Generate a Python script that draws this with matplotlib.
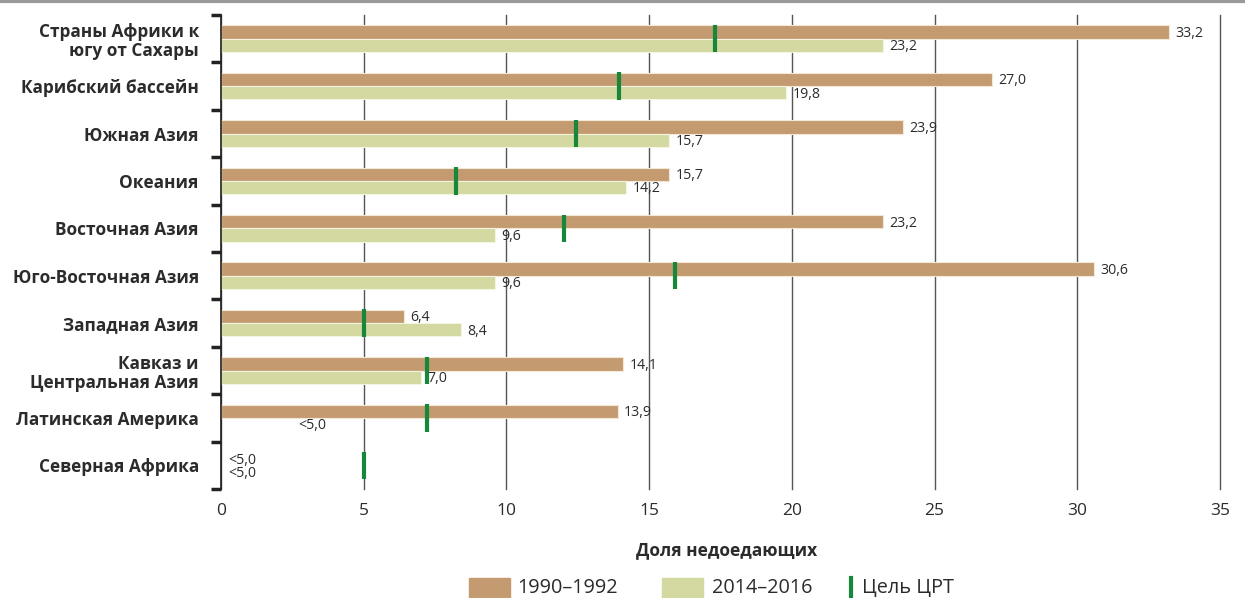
import numpy as np
import matplotlib
matplotlib.use("Agg")
import matplotlib.pyplot as plt
from matplotlib.lines import Line2D
from matplotlib.patches import Rectangle

plt.rcParams["font.family"] = ["Open Sans", "DejaVu Sans"]

regions = [
    "Страны Африки к\nюгу от Сахары",
    "Карибский бассейн",
    "Южная Азия",
    "Океания",
    "Восточная Азия",
    "Юго-Восточная Азия",
    "Западная Азия",
    "Кавказ и\nЦентральная Азия",
    "Латинская Америка",
    "Северная Африка",
]
# nan = below 5% (shown as "<5,0")
share_1990 = [33.2, 27.0, 23.9, 15.7, 23.2, 30.6, 6.4, 14.1, 13.9, np.nan]
share_2014 = [23.2, 19.8, 15.7, 14.2, 9.6, 9.6, 8.4, 7.0, np.nan, np.nan]
mdg_goal = [17.3, 13.95, 12.45, 8.25, 12.0, 15.9, 5.0, 7.2, 7.2, 5.0]
x_ticks = [0, 5, 10, 15, 20, 25, 30, 35]

BROWN = "#c49b70"
LIGHT = "#d3d9a0"
GOAL = "#17873b"
TXT = "#2b2b2b"

W, H = 1245, 598
fig = plt.figure(figsize=(W / 100, H / 100), dpi=100)
ax = fig.add_axes([221 / W, 1 - 489 / H, 999 / W, 474 / H])

y = np.arange(len(regions))
h = 0.28
ax.barh(y - h / 2, share_1990, height=h, color=BROWN, edgecolor="#f1e8d8", linewidth=0.8, zorder=2)
ax.barh(y + h / 2, share_2014, height=h, color=LIGHT, edgecolor="#f3f5e2", linewidth=0.8, zorder=2)
ax.vlines(mdg_goal, y - h - 0.01, y + h + 0.01, color=GOAL, linewidth=3, zorder=3)

# value labels
for i in range(len(regions)):
    a, b = share_1990[i], share_2014[i]
    if not np.isnan(a):
        ax.text(a + 0.22, i - h / 2 + 0.03, f"{a:.1f}".replace(".", ","), va="center",
                fontsize=10.2, color=TXT)
    if not np.isnan(b):
        ax.text(b + 0.22, i + h / 2 + 0.03, f"{b:.1f}".replace(".", ","), va="center",
                fontsize=10.2, color=TXT)
ax.text(2.7, 8 + h / 2 + 0.03, "<5,0", va="center", fontsize=10.2, color=TXT)
ax.text(0.25, 9 - h / 2 + 0.03, "<5,0", va="center", fontsize=10.2, color=TXT)
ax.text(0.25, 9 + h / 2 + 0.03, "<5,0", va="center", fontsize=10.2, color=TXT)

ax.set_xlim(0, 35)
ax.set_ylim(9.5, -0.5)
ax.set_xticks(x_ticks)
ax.set_xticklabels([str(t) for t in x_ticks], fontsize=12.5, color=TXT)
ax.tick_params(axis="x", length=0, pad=10)
ax.xaxis.grid(True, color="#555555", linewidth=1, zorder=0)
for gl in ax.get_xgridlines():
    gl.set_clip_on(False)
ax.set_axisbelow(True)

ax.set_yticks(np.arange(-0.5, 10, 1))
ax.set_yticklabels([])
ax.set_yticks(y, minor=True)
ax.set_yticklabels(regions, minor=True, fontsize=12.4, fontweight="bold", color=TXT,
                   linespacing=1.12)
ax.tick_params(axis="y", which="major", length=7, width=2.5, color="#222222")
ax.tick_params(axis="y", which="minor", length=0, pad=16)

for s in ["top", "right", "bottom"]:
    ax.spines[s].set_visible(False)
ax.spines["left"].set_color("#222222")
ax.spines["left"].set_linewidth(1.2)

fig.text(727 / W, 1 - 550 / H, "Доля недоедающих", ha="center", va="center",
         fontsize=12.5, fontweight="bold", color=TXT)

# legend, drawn by hand (its lower part is cut by the image edge)
ly = 1 - 601 / H
lh = 23 / H
fig.add_artist(Rectangle((469 / W, ly), 41 / W, lh, color=BROWN, transform=fig.transFigure))
fig.text(517 / W, 1 - 588 / H, "1990–1992", va="center", fontsize=14.3, color=TXT)
fig.add_artist(Rectangle((662 / W, ly), 41 / W, lh, color=LIGHT, transform=fig.transFigure))
fig.text(712 / W, 1 - 588 / H, "2014–2016", va="center", fontsize=14.3, color=TXT)
fig.add_artist(Line2D([851 / W, 851 / W], [ly, ly + lh], color=GOAL, linewidth=3))
fig.text(862 / W, 1 - 588 / H, "Цель ЦРТ", va="center", fontsize=14.3, color=TXT)

fig.add_artist(Line2D([0, 1], [0.998, 0.998], color="#9a9a9a", linewidth=3))

fig.savefig("out.png", dpi=100)
